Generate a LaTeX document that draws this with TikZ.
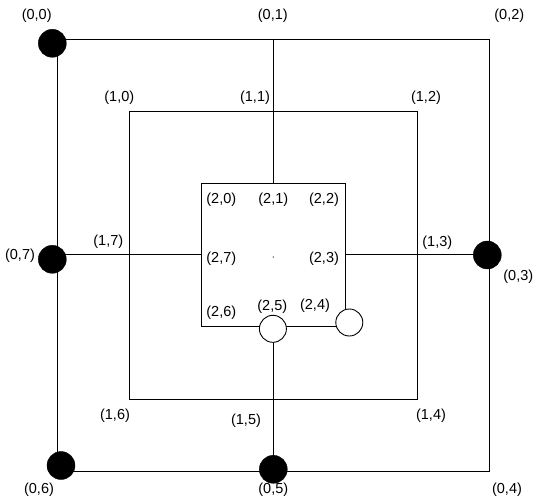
\documentclass[tikz,border=0pt]{standalone}
\usepackage{fontspec}
\setmainfont{Liberation Sans}
\begin{document}
\begin{tikzpicture}[x=1pt,y=-1pt,
  board/.style={line width=1pt,black},
  blackpc/.style={circle,fill=black,draw=black,minimum size=28pt,inner sep=0pt},
  whitepc/.style={circle,fill=white,draw=black,line width=0.9pt,minimum size=27pt,inner sep=0pt},
  lbl/.style={inner sep=0pt,font=\fontsize{14.5}{17}\selectfont}]
\useasboundingbox (0,0) rectangle (539,504);
% corners
\coordinate (o00) at (57.5,39.5);
\coordinate (o02) at (489,39.5);
\coordinate (o04) at (489,471);
\coordinate (o06) at (57.5,471);
\coordinate (o01) at (273.3,39.5);
\coordinate (o03) at (489,254.7);
\coordinate (o05) at (273.3,471);
\coordinate (o07) at (57.5,254.7);
\coordinate (m10) at (129.5,111);
\coordinate (m12) at (417.3,111);
\coordinate (m14) at (417.3,399.3);
\coordinate (m16) at (129.5,399.3);
\coordinate (i20) at (201.5,183.5);
\coordinate (i21) at (273.3,183.5);
\coordinate (i22) at (345.3,183.5);
\coordinate (i23) at (345.3,254.7);
\coordinate (i27) at (201.5,254.7);
\coordinate (i26) at (201.5,326.8);
\coordinate (i24b) at (345.3,312);
\coordinate (i24a) at (338,326.8);
% board lines
\draw[board] (o00) -- (o02) -- (o04) -- (o06) -- cycle;
\draw[board] (m10) -- (m12) -- (m14) -- (m16) -- cycle;
\draw[board] (i24b) -- (i22) -- (i20) -- (i26) -- (i24a);
\draw[board] (o01) -- (i21);
\draw[board] (o07) -- (i27);
\draw[board] (i23) -- (o03);
\draw[board] (273.3,330) -- (o05);
% pieces
\node[whitepc] (p25) at (272.9,328.8) {};
\node[whitepc] (p24) at (349.3,322.5) {};
\node[blackpc] (p00) at (52.3,43.3) {};
\node[blackpc] (p07) at (52.3,259.3) {};
\node[blackpc] (p06) at (61,465.5) {};
\node[blackpc] (p05) at (273.3,469.3) {};
\node[blackpc] (p03) at (487.3,255) {};
\fill (273.3,257) circle (0.6pt);
% labels
\node[lbl] (l00) at (36.7,16) {(0,0)};
\node[lbl] (l01) at (272.8,16) {(0,1)};
\node[lbl] (l02) at (509.3,16) {(0,2)};
\node[lbl] (l03) at (518.3,276.7) {(0,3)};
\node[lbl] (l04) at (507,489.5) {(0,4)};
\node[lbl] (l05) at (273.3,490) {(0,5)};
\node[lbl] (l06) at (39,490) {(0,6)};
\node[lbl] (l07) at (20,256) {(0,7)};
\node[lbl] (l10) at (119.3,97.3) {(1,0)};
\node[lbl] (l11) at (255,97.3) {(1,1)};
\node[lbl] (l12) at (426,97.3) {(1,2)};
\node[lbl] (l13) at (437.3,242.5) {(1,3)};
\node[lbl] (l14) at (431,415.5) {(1,4)};
\node[lbl] (l15) at (246,421) {(1,5)};
\node[lbl] (l16) at (115,415.7) {(1,6)};
\node[lbl] (l17) at (108.3,241.7) {(1,7)};
\node[lbl] (l20) at (221.3,200) {(2,0)};
\node[lbl] (l21) at (273.3,200) {(2,1)};
\node[lbl] (l22) at (324,200) {(2,2)};
\node[lbl] (l23) at (324,259) {(2,3)};
\node[lbl] (l24) at (315,305.5) {(2,4)};
\node[lbl] (l25) at (272.3,306.5) {(2,5)};
\node[lbl] (l26) at (221.3,312.3) {(2,6)};
\node[lbl] (l27) at (221.3,259) {(2,7)};
\end{tikzpicture}
\end{document}
